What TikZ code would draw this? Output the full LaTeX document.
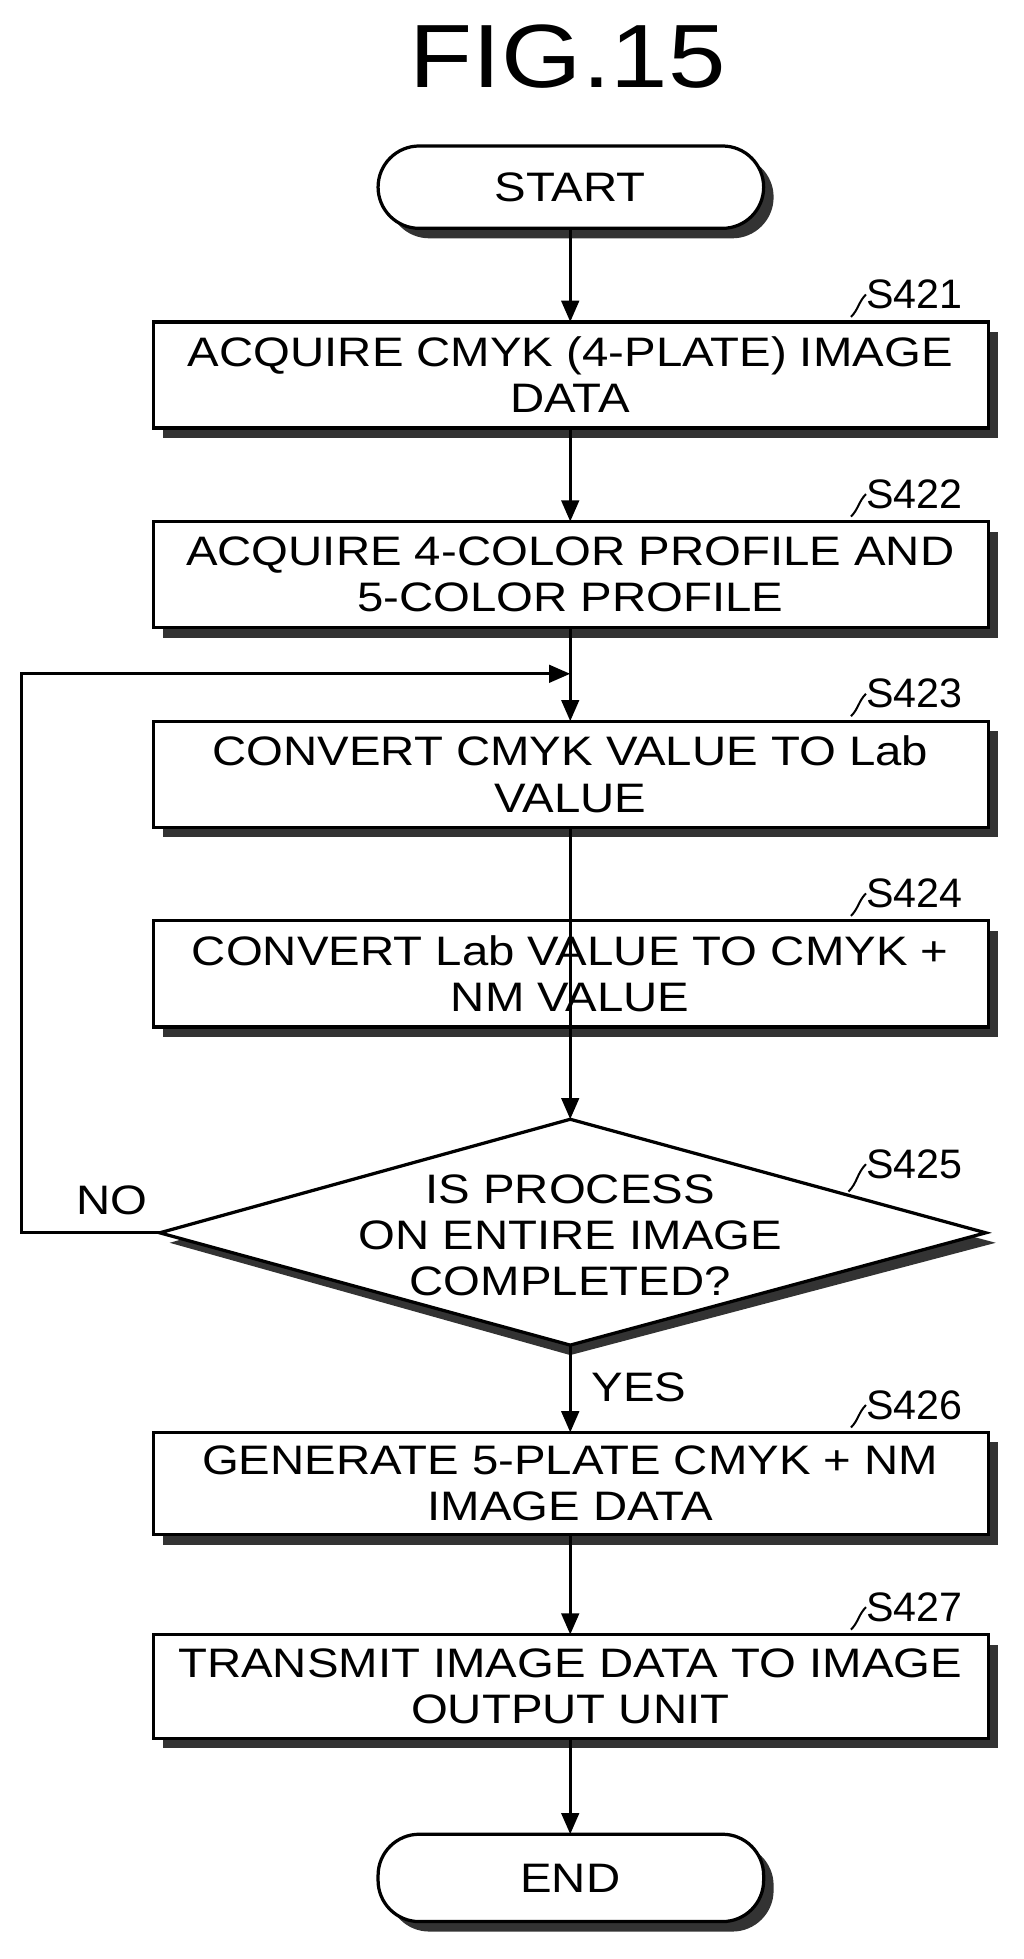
\documentclass[tikz,border=0pt]{standalone}
\usepackage{fontspec}
\setmainfont{Liberation Sans}
\newfontfamily\widefont[FakeStretch=1.15]{Liberation Sans}
\usetikzlibrary{shapes.geometric,arrows.meta}
\begin{document}
\begin{tikzpicture}[x=1pt,y=-1pt,
  txt/.style={font=\widefont\fontsize{33}{37}\selectfont,align=center},
  lbl/.style={font=\fontsize{33}{36}\selectfont,anchor=west,inner sep=0},
  arr/.style={line width=2.6pt,-{Triangle[length=17pt,width=14pt]}},
  edge/.style={line width=2.6pt},
  shad/.style={fill=black!80}]
\useasboundingbox (0,0) rectangle (820,1570);
\node[font=\widefont\fontsize{72}{80}\selectfont] (title) at (455,45) {FIG.15};
% process boxes
\foreach \n/\t/\b/\s/\tx in {
  a/258/343/S421/{ACQUIRE CMYK (4-PLATE) IMAGE\\DATA},
  b/418/503/S422/{ACQUIRE 4-COLOR PROFILE AND\\5-COLOR PROFILE},
  c/578/663/S423/{CONVERT CMYK VALUE TO Lab\\VALUE},
  d/738/823/S424/{CONVERT Lab VALUE TO CMYK +\\NM VALUE},
  f/1148/1230/S426/{GENERATE 5-PLATE CMYK + NM\\IMAGE DATA},
  g/1310/1393/S427/{TRANSMIT IMAGE DATA TO IMAGE\\OUTPUT UNIT}}{
  \fill[shad] (131,\t+8) rectangle (800,\b+8);
  \draw[edge,fill=white] (123,\t) rectangle (792,\b);
  \coordinate (\n) at (457,{(\t+\b)/2});
  \coordinate (\n t) at (457,\t);
  \coordinate (\n b) at (457,\b);
  \node[txt] (\n x) at (457,{(\t+\b)/2}) {\tx};
  \node[lbl] (\n l) at (694,\t-22) {\s};
  \draw[line width=1.6pt] (\n l.west) to[out=-135,in=45] (682,\t-4);
}
% terminals
\foreach \n/\t/\b/\tx in {s/117/183/START, e/1470/1540/END}{
  \fill[shad,rounded corners=33pt] (311,\t+8) rectangle (620,\b+8);
  \draw[edge,fill=white,rounded corners=33pt] (303,\t) rectangle (612,\b);
  \node[txt] (\n) at (457,{(\t+\b)/2}) {\tx};
  \coordinate (\n t) at (457,\t);
  \coordinate (\n b) at (457,\b);
}
% diamond
\fill[shad] (457,905) -- (798,996) -- (457,1086) -- (136,996) -- cycle;
\draw[edge,fill=white] (457,897) coordinate (dt) -- (790,988) coordinate (dr) -- (457,1078) coordinate (db) -- (128,988) coordinate (dl) -- cycle;
\node[txt] (dx) at (457,990) {IS PROCESS\\ON ENTIRE IMAGE\\COMPLETED?};
\node[lbl] (dlb) at (694,933) {S425};
\draw[line width=1.6pt] (dlb.west) to[out=-135,in=45] (680,955);
% connectors
\coordinate (lp) at (457,540);
\draw[arr] (sb) -- (at);
\draw[arr] (ab) -- (bt);
\draw[edge] (bb) -- (lp);
\draw[arr] (lp) -- (ct);
\draw[arr] (cb) -- (dt);
\draw[arr] (db) -- (ft);
\draw[arr] (fb) -- (gt);
\draw[arr] (gb) -- (et);
\draw[arr] (dl) -- (17,988) -- (17,540) -- (lp);
\node[txt] (no) at (90,962) {NO};
\node[txt] (yes) at (512,1112) {YES};
\end{tikzpicture}
\end{document}
